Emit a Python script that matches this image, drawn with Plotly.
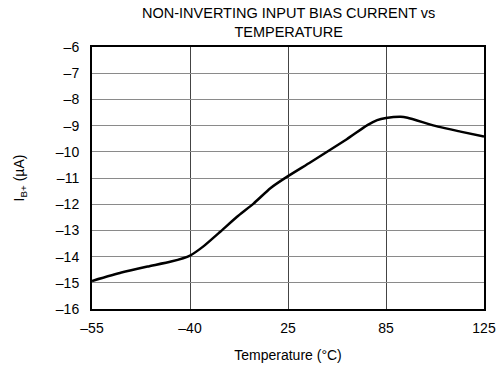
import numpy as np
import plotly.graph_objects as go

# Tick temperatures (x axis is not linear: equal spacing between these labels)
x_tick_temps = [-55, -40, 25, 85, 125]
x_tick_labels = ["–55", "–40", "25", "85", "125"]
y_tick_vals = [-16, -15, -14, -13, -12, -11, -10, -9, -8, -7, -6]
y_tick_labels = ["–16", "–15", "–14", "–13", "–12", "–11", "–10", "–9", "–8", "–7", "–6"]

# Curve: temperature (°C) and IB+ (µA)
temperature = [-55, -50.5, -46.5, -42.9, -40, -30.9, -19.9, -8.8, 2.3, 13.3, 25,
               38.8, 61, 73.6, 79.6, 85, 91, 93.8, 106.2, 115.4, 125]
ib_plus = [-14.93, -14.61, -14.38, -14.19, -13.96, -13.6, -13.05, -12.48, -11.97, -11.39, -10.93,
           -10.40, -9.52, -8.98, -8.79, -8.71, -8.66, -8.70, -9.04, -9.23, -9.42]

# map temperatures onto the equally spaced axis positions
tick_pos = list(range(len(x_tick_temps)))
x_pos = np.interp(temperature, x_tick_temps, tick_pos)

font = "Liberation Sans, Arial, sans-serif"

fig = go.Figure()
fig.add_trace(go.Scatter(
    x=x_pos, y=ib_plus, mode="lines",
    line=dict(color="black", width=2.5, shape="spline", smoothing=0.5),
    showlegend=False, hoverinfo="skip",
))

fig.update_layout(
    width=496, height=368,
    margin=dict(l=92, r=12, t=47, b=59, autoexpand=False),
    paper_bgcolor="white", plot_bgcolor="white",
    font=dict(family=font, size=14, color="black"),
    annotations=[
        dict(text="NON-INVERTING INPUT BIAS CURRENT vs<br>TEMPERATURE",
             xref="paper", yref="paper", x=0.5, y=1.0, yshift=44,
             xanchor="center", yanchor="top", showarrow=False,
             font=dict(family=font, size=14.5, color="black")),
    ],
)

fig.update_xaxes(
    range=[0, len(x_tick_temps) - 1], automargin=False,
    tickmode="array", tickvals=tick_pos, ticktext=x_tick_labels,
    showgrid=True, gridcolor="#444444", gridwidth=1,
    showline=True, linecolor="black", linewidth=2, mirror=True,
    ticks="outside", ticklen=5, tickcolor="rgba(0,0,0,0)", zeroline=False,
    title=dict(text="Temperature (°C)", font=dict(family=font, size=14), standoff=15),
    tickfont=dict(family=font, size=14),
)
fig.update_yaxes(
    range=[-16, -6], automargin=False,
    tickmode="array", tickvals=y_tick_vals, ticktext=y_tick_labels,
    showgrid=True, gridcolor="#8a8a8a", gridwidth=1,
    showline=True, linecolor="black", linewidth=2, mirror=True,
    ticks="outside", ticklen=8, tickcolor="rgba(0,0,0,0)", zeroline=False,
    title=dict(text="I<sub>B+</sub> (µA)", font=dict(family=font, size=14), standoff=28),
    tickfont=dict(family=font, size=14),
)

fig.write_html(
    "out.html",
    config={"displayModeBar": False},
    post_script="document.body.style.margin='0';document.body.style.overflow='hidden';",
)
